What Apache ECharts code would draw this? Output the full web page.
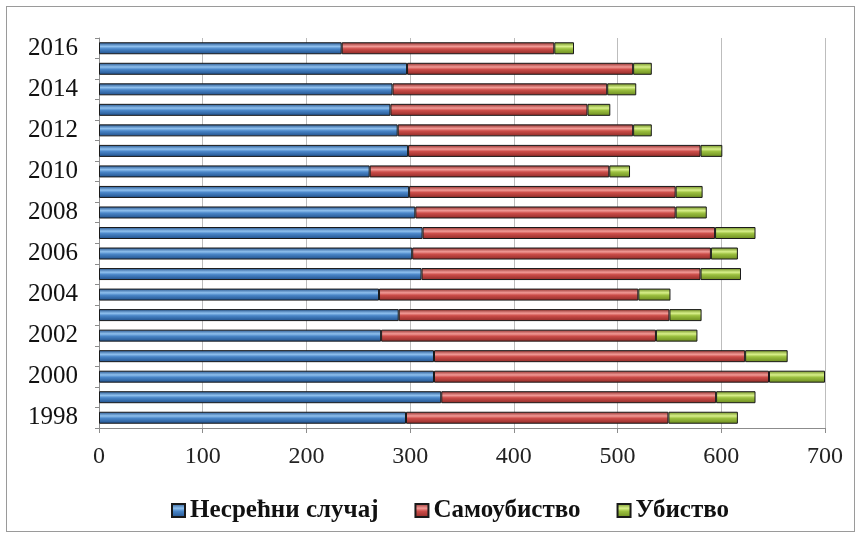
<!DOCTYPE html>
<html>
<head>
<meta charset="utf-8">
<script src="https://cdn.jsdelivr.net/npm/echarts@6/dist/echarts.min.js"></script>
<style>
  html, body { margin: 0; padding: 0; background: #fff; }
  #frame { position: absolute; left: 6px; top: 6px; width: 847px; height: 524px; border: 1px solid #9a9a9a; }
  #chart { position: absolute; left: 0; top: 0; width: 861px; height: 538px; }
</style>
</head>
<body>
<div id="frame"></div>
<div id="chart"></div>
<script>
// године, одоздо нагоре
const years = ['1998', '1999', '2000', '2001', '2002', '2003', '2004', '2005', '2006', '2007',
  '2008', '2009', '2010', '2011', '2012', '2013', '2014', '2015', '2016'];
const accident = [296, 330, 323, 323, 272, 289, 270, 311, 302, 312, 305, 299, 261, 298, 288, 281, 283, 297, 234];
const suicide = [253, 265, 323, 300, 265, 261, 250, 269, 288, 282, 251, 257, 231, 282, 227, 190, 207, 218, 205];
const murder = [67, 38, 54, 41, 40, 31, 31, 39, 26, 39, 30, 26, 20, 21, 18, 22, 28, 18, 19];
const xTicks = [0, 100, 200, 300, 400, 500, 600, 700];

const chart = echarts.init(document.getElementById('chart'));

// сенчење траке: светлија пруга по средини
function shade(dark, mid, light) {
  return new echarts.graphic.LinearGradient(0, 0, 0, 1, [
    { offset: 0, color: dark },
    { offset: 0.35, color: light },
    { offset: 0.55, color: mid },
    { offset: 1, color: dark }
  ]);
}

function makeSeries(name, data, fill) {
  return {
    name: name,
    type: 'bar',
    stack: 'total',
    data: data,
    barWidth: 12,
    itemStyle: {
      color: fill,
      borderColor: '#1a1a1a',
      borderWidth: 1
    }
  };
}

const option = {
  animation: false,
  textStyle: { fontFamily: 'Liberation Serif' },
  grid: { left: 99, right: 36, top: 38, bottom: 110 },
  legend: {
    top: 493,
    left: 166,
    icon: 'rect',
    itemWidth: 13,
    itemHeight: 13,
    itemGap: 36,
    textStyle: { fontSize: 25, fontWeight: 'bold', color: '#111', fontFamily: 'Liberation Serif' },
    data: ['Несрећни случај', 'Самоубиство', 'Убиство']
  },
  xAxis: {
    type: 'value',
    min: xTicks[0],
    max: xTicks[xTicks.length - 1],
    interval: 100,
    axisLine: { show: true, lineStyle: { color: '#8c8c8c' } },
    axisTick: { show: true, length: 5, lineStyle: { color: '#8c8c8c' } },
    axisLabel: { fontSize: 24, color: '#222', margin: 17 },
    splitLine: { show: true, lineStyle: { color: '#bdbdbd' } }
  },
  yAxis: {
    type: 'category',
    data: years,
    axisLine: { show: true, lineStyle: { color: '#8c8c8c' } },
    axisTick: { show: true, length: 4, interval: 0, lineStyle: { color: '#8c8c8c' } },
    axisLabel: { interval: 1, fontSize: 25, color: '#111', margin: 21 }
  },
  series: [
    makeSeries('Несрећни случај', accident, shade('#1f4f8a', '#4a86c8', '#8fc0ee')),
    makeSeries('Самоубиство', suicide, shade('#8e2a27', '#cc4d49', '#f29a96')),
    makeSeries('Убиство', murder, shade('#6a8a1e', '#9cc040', '#d8f08a'))
  ]
};

chart.setOption(option);
</script>
</body>
</html>
